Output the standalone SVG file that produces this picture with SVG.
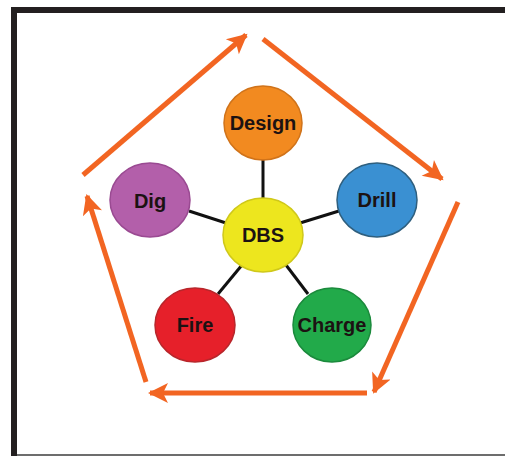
<svg xmlns="http://www.w3.org/2000/svg" width="505" height="456" viewBox="0 0 505 456">
<style>
.lbl{font-family:"Liberation Sans",Arial,sans-serif;font-weight:bold;font-size:20px;fill:#1c1212;text-anchor:middle}
.conn line{stroke:#111;stroke-width:3}
.flow line{stroke:#F26522;stroke-width:5;fill:none}
.node ellipse{stroke-width:1.5}
</style>
<defs>
<marker id="ah" viewBox="0 0 10 10" refX="9" refY="5" markerUnits="userSpaceOnUse" markerWidth="22" markerHeight="20" orient="auto">
<path d="M0,0 L10,5 L0,10 L2.5,5 Z" fill="#F26522"/>
</marker>
</defs>
<rect x="0" y="0" width="505" height="456" fill="#fff"/>
<rect x="11" y="7" width="494" height="6" fill="#231f20"/>
<rect x="11" y="7" width="6" height="449" fill="#231f20"/>
<rect x="17" y="454" width="488" height="2" fill="#6d6d6d"/>
<g id="flow" class="flow">
<line x1="83" y1="175" x2="246" y2="35" marker-end="url(#ah)"/>
<line x1="263" y1="39" x2="442" y2="179" marker-end="url(#ah)"/>
<line x1="458" y1="202" x2="374" y2="392" marker-end="url(#ah)"/>
<line x1="367" y1="393" x2="150" y2="393" marker-end="url(#ah)"/>
<line x1="146" y1="382" x2="87" y2="196" marker-end="url(#ah)"/>
</g>
<g id="connectors" class="conn">
<line x1="263" y1="158" x2="263" y2="200"/>
<line x1="189" y1="211" x2="226" y2="223"/>
<line x1="339" y1="211" x2="300" y2="223"/>
<line x1="218" y1="294" x2="242" y2="265"/>
<line x1="308" y1="294" x2="286" y2="265"/>
</g>
<g id="design" class="node">
<ellipse cx="263" cy="123" rx="39" ry="37" fill="#F28A20" stroke="#d0731a"/>
<text class="lbl" x="263" y="130">Design</text>
</g>
<g id="dig" class="node">
<ellipse cx="150" cy="200" rx="40" ry="37" fill="#B35FAA" stroke="#9a4a92"/>
<text class="lbl" x="150" y="208">Dig</text>
</g>
<g id="drill" class="node">
<ellipse cx="377" cy="200" rx="40" ry="37" fill="#3A90D2" stroke="#2f5f7e"/>
<text class="lbl" x="377" y="207">Drill</text>
</g>
<g id="dbs" class="node">
<ellipse cx="263" cy="235" rx="40" ry="37" fill="#EDE61E" stroke="#cfc81a"/>
<text class="lbl" x="263" y="242">DBS</text>
</g>
<g id="fire" class="node">
<ellipse cx="195" cy="325" rx="40" ry="37" fill="#E6202A" stroke="#b8262b"/>
<text class="lbl" x="195" y="332">Fire</text>
</g>
<g id="charge" class="node">
<ellipse cx="332" cy="325" rx="39" ry="37" fill="#22AA4A" stroke="#1b8a3c"/>
<text class="lbl" x="332" y="332">Charge</text>
</g>
</svg>
